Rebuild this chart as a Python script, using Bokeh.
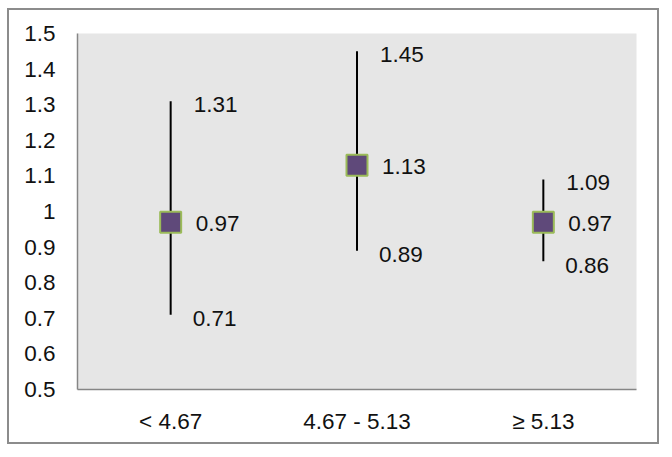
from bokeh.plotting import figure
from bokeh.models import ColumnDataSource, FixedTicker, CustomJSTickFormatter
from bokeh.core.properties import value
from bokeh.embed import file_html
from bokeh.resources import INLINE

categories = ["< 4.67", "4.67 - 5.13", "≥ 5.13"]
estimate = [0.97, 1.13, 0.97]
lower = [0.71, 0.89, 0.86]
upper = [1.31, 1.45, 1.09]
y_ticks = [0.5, 0.6, 0.7, 0.8, 0.9, 1.0, 1.1, 1.2, 1.3, 1.4, 1.5]

src = ColumnDataSource(dict(
    cat=categories, est=estimate, lo=lower, hi=upper,
    est_lbl=["%.2f" % v for v in estimate],
    lo_lbl=["%.2f" % v for v in lower],
    hi_lbl=["%.2f" % v for v in upper],
))

FONT = "Liberation Sans"
FS = "22.5px"
p = figure(x_range=categories, y_range=(0.5, 1.5), width=652, height=436,
           output_backend="svg", toolbar_location=None,
           min_border_left=68, min_border_right=25, min_border_top=23, min_border_bottom=57,
           background_fill_color="#E6E6E6", border_fill_color="white",
           styles={"border": "2px solid #8c8c8c", "margin-left": "7px", "margin-top": "8px"})
p.outline_line_color = None
p.xgrid.visible = False
p.ygrid.visible = False

for ax in (p.xaxis, p.yaxis):
    ax.axis_line_color = "#868686"
    ax.axis_line_width = 1.5
    ax.major_tick_line_color = None
    ax.minor_tick_line_color = None
    ax.major_label_text_font = FONT
    ax.major_label_text_font_size = FS
    ax.major_label_text_color = "#111111"

p.yaxis.ticker = FixedTicker(ticks=y_ticks)
p.yaxis.formatter = CustomJSTickFormatter(code="return tick.toFixed(1).replace(/\\.0$/, '');")
p.yaxis.major_label_standoff = 16
p.xaxis.major_label_standoff = 13

p.segment(x0="cat", y0="lo", x1="cat", y1="hi", source=src, line_color="black", line_width=2)
p.scatter(x="cat", y="est", source=src, marker="square", size=21,
          fill_color="#5F497A", line_color="#9BBB59", line_width=2)

common = dict(source=src, text_font=value(FONT), text_font_size=FS,
              text_color="#111111", text_baseline="middle", text_align="left")
p.text(x="cat", y="hi", text="hi_lbl", x_offset=23, y_offset=3, **common)
p.text(x="cat", y="est", text="est_lbl", x_offset=25, y_offset=1, **common)
p.text(x="cat", y="lo", text="lo_lbl", x_offset=22, y_offset=4, **common)

open("out.html", "w").write(file_html(p, INLINE))
